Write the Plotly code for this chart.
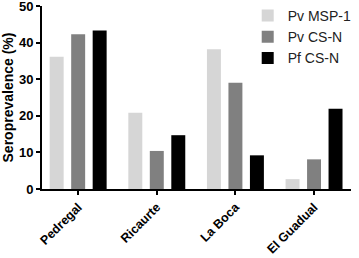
import plotly.graph_objects as go

sites = ["Pedregal", "Ricaurte", "La Boca", "El Guadual"]
series_names = ["Pv MSP-1", "Pv CS-N", "Pf CS-N"]
pv_msp1 = [36.1, 20.8, 38.2, 2.7]
pv_csn = [42.3, 10.4, 29.0, 8.1]
pf_csn = [43.3, 14.7, 9.2, 21.9]
colors = ["#d6d6d6", "#808080", "#000000"]

fig = go.Figure()
for name, vals, col in zip(series_names, [pv_msp1, pv_csn, pf_csn], colors):
    fig.add_trace(go.Bar(x=sites, y=vals, name=name, marker=dict(color=col, line=dict(width=0))))

font_family = "Liberation Sans, Arial, sans-serif"
fig.update_layout(
    width=359, height=258,
    margin=dict(l=42, r=8, t=6, b=69, autoexpand=False),
    paper_bgcolor="white", plot_bgcolor="white",
    barmode="group", bargap=0.18, bargroupgap=0.35,
    font=dict(family=font_family, color="black"),
    showlegend=True,
    legend=dict(x=0.69, y=1.0, xref="container", yref="container",
                xanchor="left", yanchor="top",
                font=dict(size=14, color="#222222"), bgcolor="rgba(0,0,0,0)",
                tracegroupgap=0, itemwidth=30),
    xaxis=dict(range=[-0.46, 3.47], showline=True, linecolor="black", linewidth=2,
               ticks="outside", ticklen=4, tickwidth=2, tickcolor="black",
               tickangle=-45, tickfont=dict(size=12.5, weight="bold"), showgrid=False,
               ticklabeloverflow="allow"),
    yaxis=dict(range=[0, 50], tickvals=[0, 10, 20, 30, 40, 50], showline=True, linecolor="black",
               linewidth=2, ticks="outside", ticklen=4, tickwidth=2, tickcolor="black",
               tickfont=dict(size=13, weight="bold"), showgrid=False, zeroline=False,
               ticklabeloverflow="allow",
               title=dict(text="Seroprevalence (%)", font=dict(size=14, weight="bold"), standoff=3)),
)
fig.write_html("out.html", config={"displayModeBar": False},
               post_script="document.body.style.margin='0';document.body.style.overflow='hidden';")
